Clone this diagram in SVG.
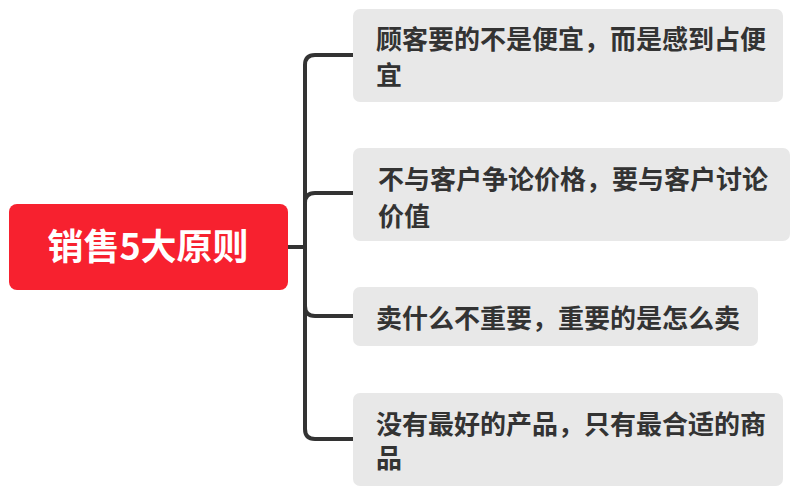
<svg xmlns="http://www.w3.org/2000/svg" width="809" height="493" viewBox="0 0 809 493">
<style>
.sub{fill:#e8e8e8}
.t{font-family:"Noto Sans CJK SC","Microsoft YaHei",sans-serif;font-weight:bold;font-size:26px;fill:#333333}
.rt{font-family:"Noto Sans CJK SC","Microsoft YaHei",sans-serif;font-weight:bold;font-size:36px;fill:#ffffff}
.c{fill:none;stroke:#333333;stroke-width:4;stroke-linecap:round;stroke-linejoin:round}
</style>
<rect width="809" height="493" fill="#ffffff"/>
<g id="connectors">
<path class="c" d="M288,247 H305"/>
<path class="c" d="M353,55 H315 Q305,55 305,65 V429 Q305,439 315,439 H353"/>
<path class="c" d="M353,193 H315 Q305,193 305,203"/>
<path class="c" d="M353,316 H315 Q305,316 305,306"/>
</g>
<g id="root">
<rect x="9" y="204" width="279" height="86" rx="8" fill="#f7212f"/>
<text class="rt" x="148" y="260" text-anchor="middle">销售5大原则</text>
</g>
<g id="n1">
<rect class="sub" x="353" y="9" width="430" height="93" rx="7"/>
<text class="t" x="376" y="49">顾客要的不是便宜，而是感到占便</text>
<text class="t" x="376" y="85">宜</text>
</g>
<g id="n2">
<rect class="sub" x="353" y="148" width="437" height="93" rx="7"/>
<text class="t" x="378" y="189">不与客户争论价格，要与客户讨论</text>
<text class="t" x="378" y="226">价值</text>
</g>
<g id="n3">
<rect class="sub" x="353" y="287" width="405" height="59" rx="7"/>
<text class="t" x="376" y="328">卖什么不重要，重要的是怎么卖</text>
</g>
<g id="n4">
<rect class="sub" x="353" y="393" width="430" height="93" rx="7"/>
<text class="t" x="376" y="434">没有最好的产品，只有最合适的商</text>
<text class="t" x="376" y="468">品</text>
</g>
</svg>
